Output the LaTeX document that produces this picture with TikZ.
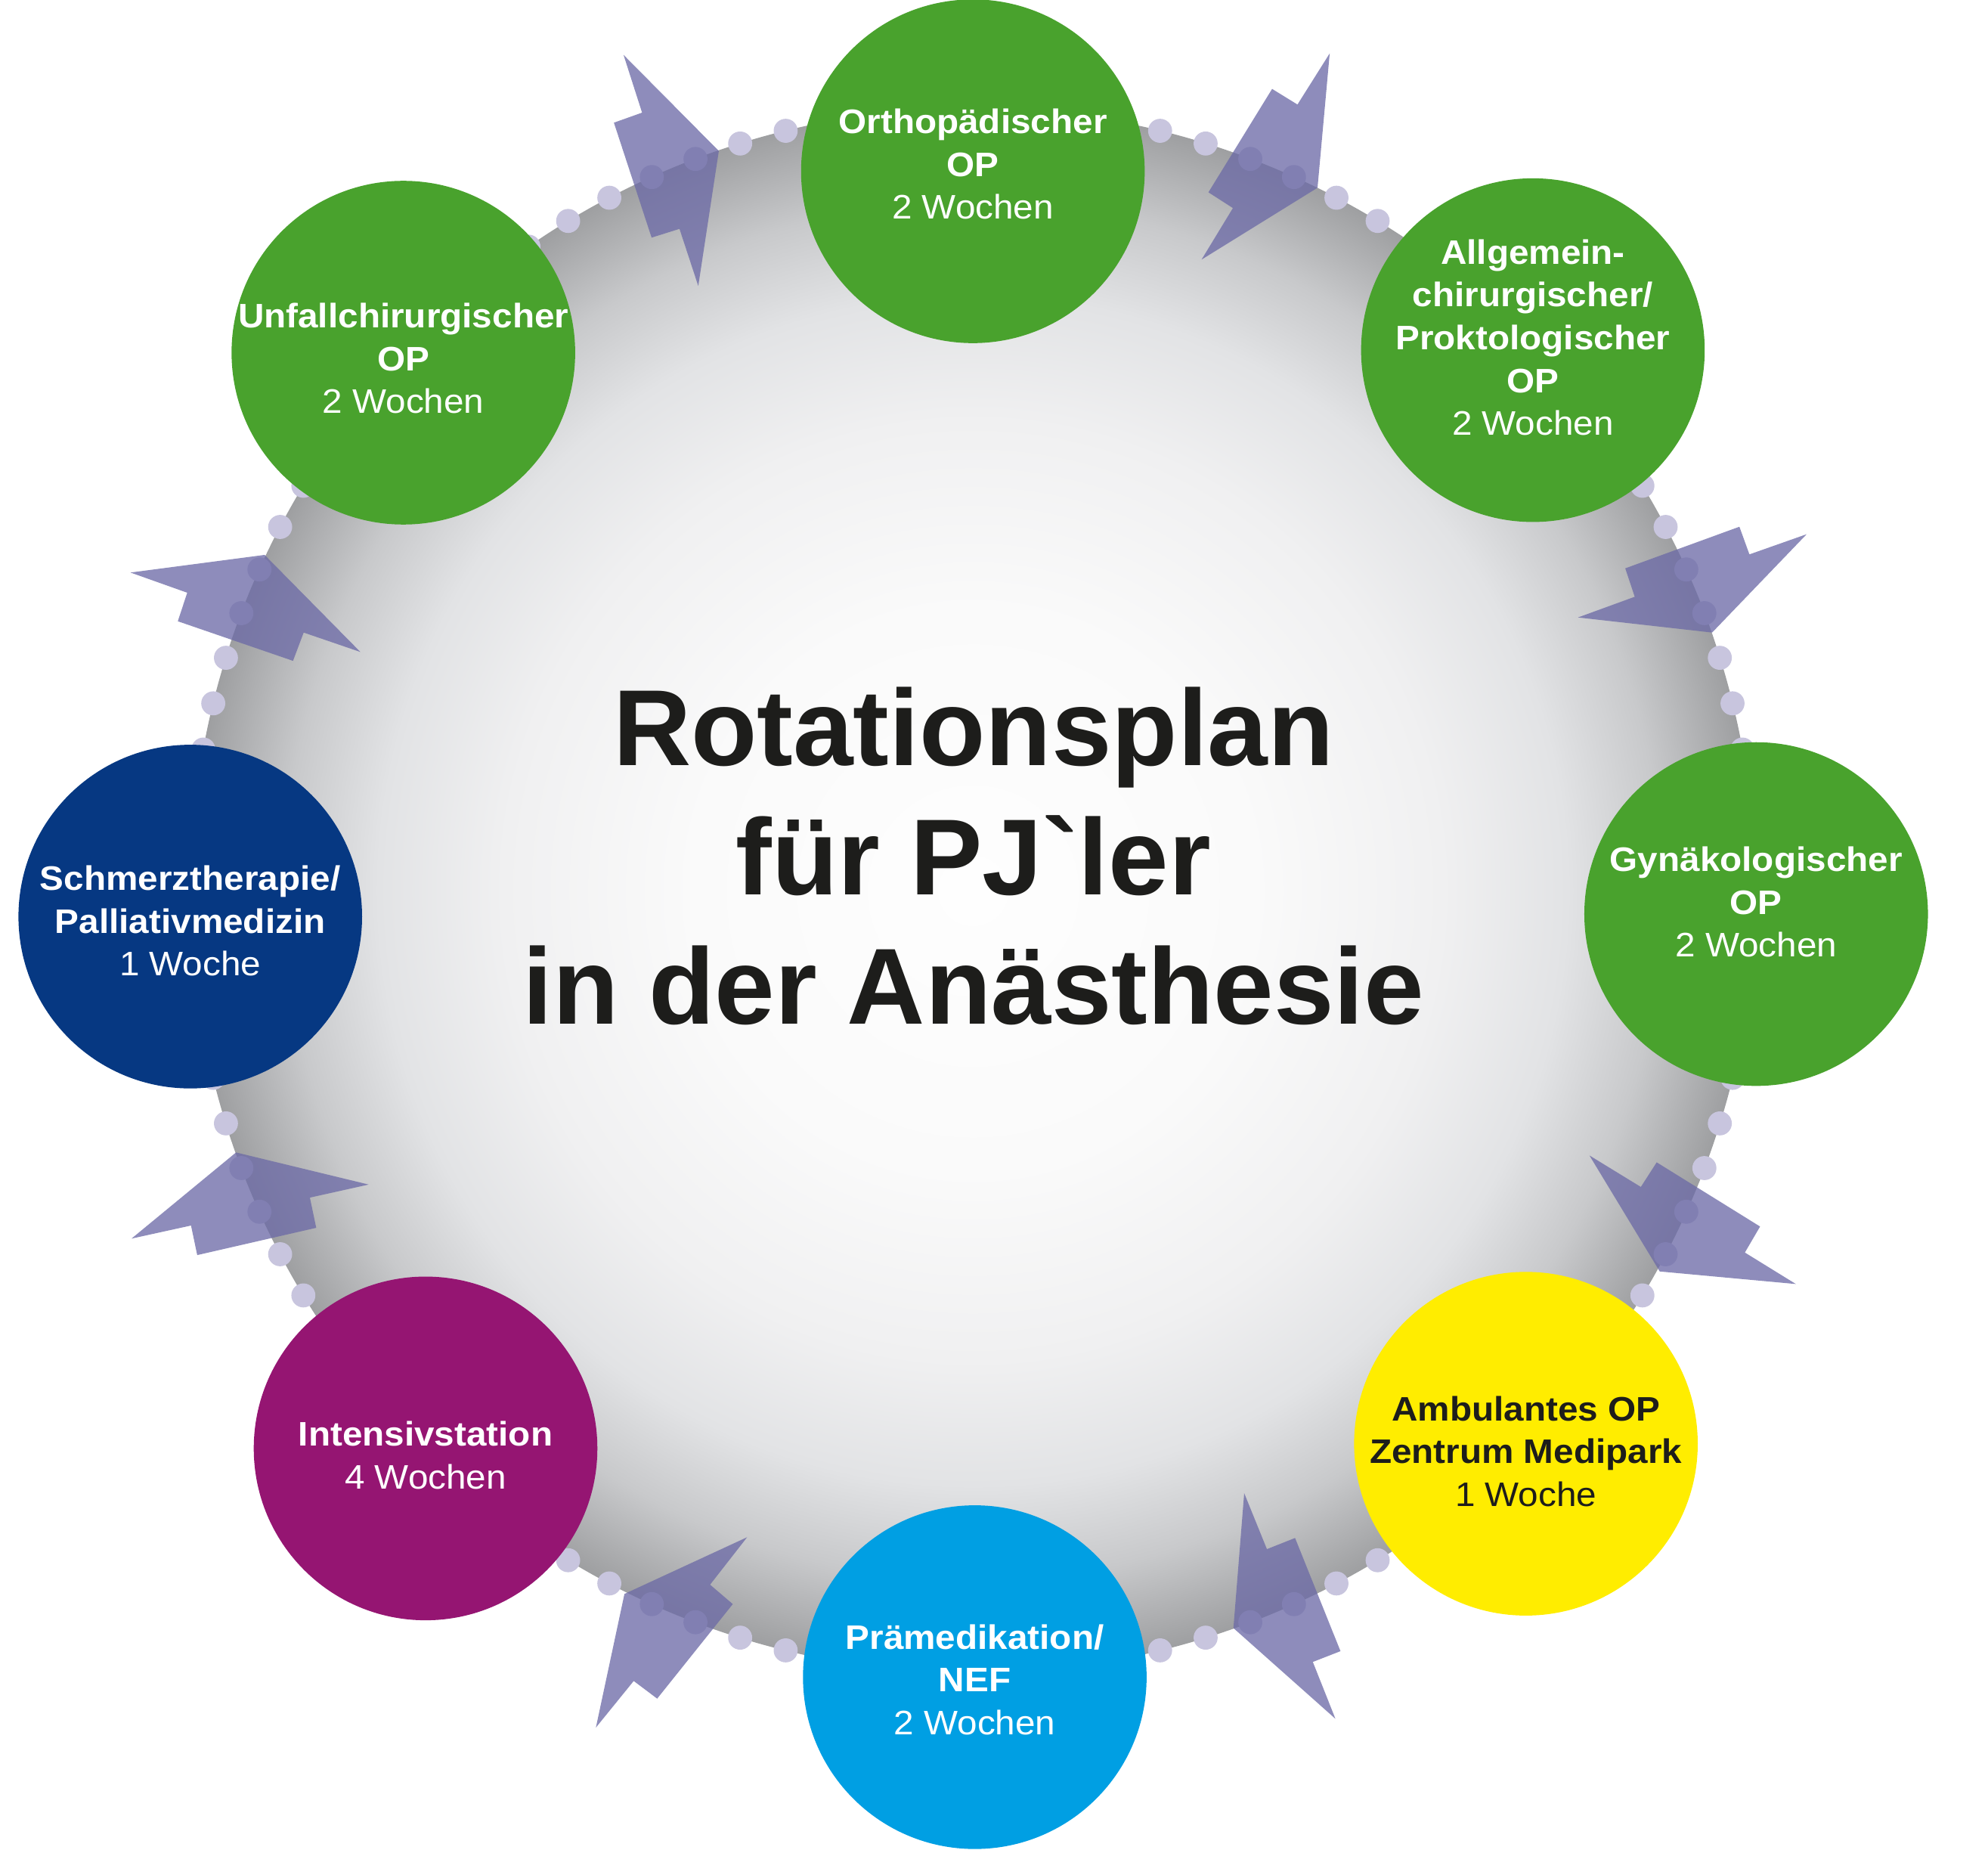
\documentclass[tikz,border=0pt]{standalone}
\usepackage{fontspec}
\setmainfont{Liberation Sans}
\newfontfamily\circfont[FakeStretch=1.06]{Liberation Sans}
\newfontfamily\plainfont[Ligatures=TeXOff]{Liberation Sans}
\definecolor{opgreen}{RGB}{73,162,45}
\definecolor{premblue}{RGB}{0,159,227}
\definecolor{icupurple}{RGB}{149,21,114}
\definecolor{paindblue}{RGB}{6,56,130}
\definecolor{ambyellow}{RGB}{255,237,0}
\definecolor{inkdark}{RGB}{29,29,27}
\definecolor{dotcol}{RGB}{200,197,222}
\definecolor{boltcol}{RGB}{108,106,166}
\definecolor{gA}{RGB}{254,254,254}
\definecolor{gB}{RGB}{250,250,250}
\definecolor{gC}{RGB}{240,240,241}
\definecolor{gD}{RGB}{226,227,229}
\definecolor{gE}{RGB}{200,201,203}
\definecolor{gF}{RGB}{158,159,161}
\pgfdeclareradialshading{ringshade}{\pgfpoint{0bp}{0bp}}{color(0bp)=(gA); color(9bp)=(gB); color(15bp)=(gC); color(19bp)=(gD); color(22bp)=(gE); color(25bp)=(gF); color(50bp)=(gF)}
\begin{document}
\begin{tikzpicture}[x=0.01678cm,y=-0.01678cm,
  station/.style={circle, minimum size=4.547cm, inner sep=0pt, draw=none},
  stationtext/.style={align=center, inner sep=0pt, text=white,
    font=\circfont\fontsize{12.8pt}{16.1pt}\selectfont},
  titletext/.style={anchor=base, inner sep=0pt, text=inkdark,
    font=\plainfont\fontsize{40.7pt}{48.6pt}\selectfont\bfseries},
  bolt/.style={fill=boltcol, fill opacity=0.77},
  ringdot/.style={fill=dotcol}]
\useasboundingbox (0,0) rectangle (1567.3,1457.7);
% grey disc
\shade[shading=ringshade] (767,702) circle [radius=10.353cm];
% dots on the rim
\foreach \k in {0,...,103}{
  \pgfmathsetmacro{\ang}{\k*3.461538}
  \fill[ringdot] (767,702) ++(\ang:10.353cm) circle [radius=0.159cm];
}
% lightning arrows
\fill[bolt] (491.6,43.3) -- (566.7,119) -- (550.5,225.4) -- (535.7,180.4) -- (513.7,187.3) -- (484,96.7) -- (506.2,88.8) -- cycle;
\fill[bolt] (1048.3,42.1) -- (1038.7,148) -- (947.3,204.6) -- (972,164) -- (952.7,151.6) -- (1002.9,70.1) -- (1022.9,82.4) -- cycle;
\fill[bolt] (1244.1,486.7) -- (1349.8,498.6) -- (1424.3,421.1) -- (1379.2,437) -- (1371.3,415.2) -- (1281.3,448) -- (1288.8,470.4) -- cycle;
\fill[bolt] (1415.8,1012.1) -- (1308.5,1002.2) -- (1253.1,910.8) -- (1293.6,935.6) -- (1306.1,916.2) -- (1387.6,966.8) -- (1375.6,987.3) -- cycle;
\fill[bolt] (1052.8,1354.8) -- (972.4,1283.3) -- (980.9,1177) -- (998.8,1221.1) -- (1021,1212.3) -- (1056.8,1301.5) -- (1035,1310) -- cycle;
\fill[bolt] (469.8,1361.7) -- (492.3,1256.4) -- (589,1211.7) -- (559.8,1249.1) -- (577.7,1264.4) -- (518.1,1338.9) -- (499.6,1325) -- cycle;
\fill[bolt] (103.7,976.3) -- (186.1,908.4) -- (290.6,933.7) -- (244.3,944) -- (249.3,967.8) -- (155.5,989.3) -- (150.6,966) -- cycle;
\fill[bolt] (102.9,451.3) -- (208.6,437.4) -- (284.1,513.9) -- (239.4,498.6) -- (231,520.9) -- (140.2,489.7) -- (147.6,467.2) -- cycle;
% stations
\node[station, fill=opgreen] (ortho) at (767,135) {};
\node[station, fill=opgreen] (allg) at (1208.5,276) {};
\node[station, fill=opgreen] (gyn) at (1384.5,720.5) {};
\node[station, fill=ambyellow] (amb) at (1203,1138) {};
\node[station, fill=premblue] (prem) at (768.5,1322) {};
\node[station, fill=icupurple] (icu) at (335.5,1141.7) {};
\node[station, fill=paindblue] (pain) at (150,722.5) {};
\node[station, fill=opgreen] (unfall) at (318,278) {};
% station labels
\node[stationtext] (orthotext) at (767,129.5) {\textbf{Orthopädischer}\\\textbf{OP}\\2 Wochen};
\node[stationtext] (allgtext) at (1208.5,266) {\textbf{Allgemein-}\\\textbf{chirurgischer/}\\\textbf{Proktologischer}\\\textbf{OP}\\2 Wochen};
\node[stationtext] (gyntext) at (1384.5,711) {\textbf{Gynäkologischer}\\\textbf{OP}\\2 Wochen};
\node[stationtext, text=inkdark] (ambtext) at (1203,1144) {\textbf{Ambulantes OP}\\\textbf{Zentrum Medipark}\\1 Woche};
\node[stationtext] (premtext) at (768.5,1324) {\textbf{Prämedikation/}\\\textbf{NEF}\\2 Wochen};
\node[stationtext] (icutext) at (335.5,1147) {\textbf{Intensivstation}\\4 Wochen};
\node[stationtext] (paintext) at (150,726) {\textbf{Schmerztherapie/}\\\textbf{Palliativmedizin}\\1 Woche};
\node[stationtext] (unfalltext) at (318,282.5) {\textbf{Unfallchirurgischer}\\\textbf{OP}\\2 Wochen};
% title
\node[titletext] (title1) at (767.5,603.6) {Rotationsplan};
\node[titletext] (title2) at (767.5,705.5) {für PJ`ler};
\node[titletext] (title3) at (767.5,807.3) {in der Anästhesie};
\end{tikzpicture}
\end{document}
